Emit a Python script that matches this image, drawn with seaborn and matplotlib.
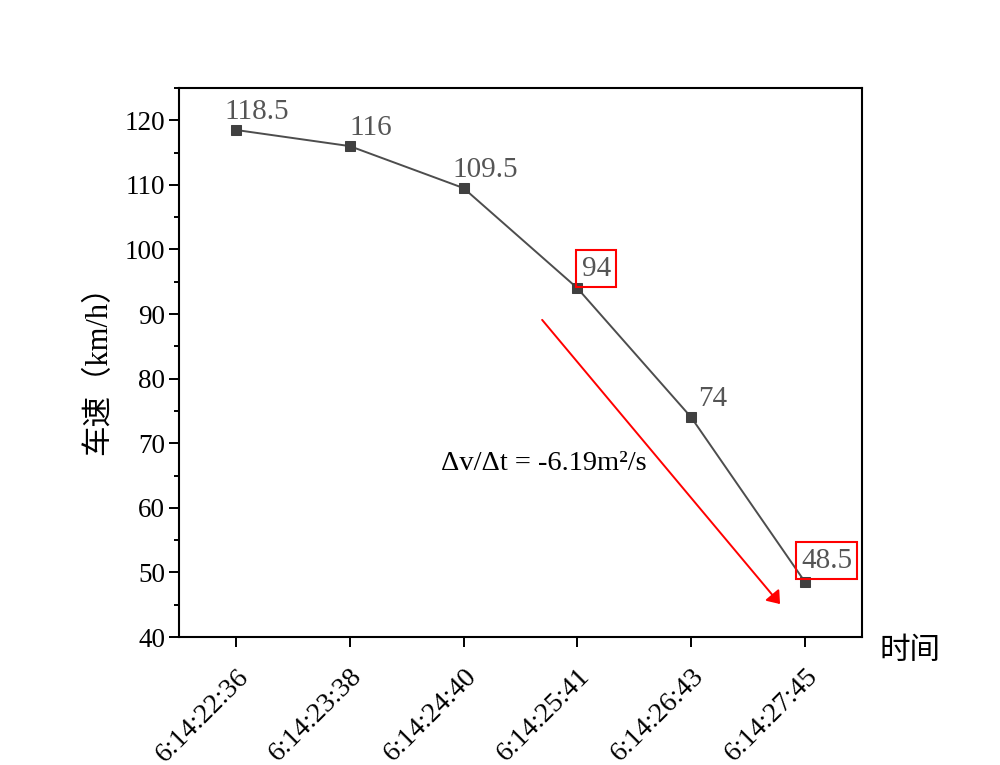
import matplotlib
matplotlib.use("Agg")
import matplotlib.pyplot as plt
import pandas as pd
import seaborn as sns
from matplotlib.ticker import MultipleLocator


# data
times = ["6:14:22:36", "6:14:23:38", "6:14:24:40", "6:14:25:41", "6:14:26:43", "6:14:27:45"]
speeds = [118.5, 116, 109.5, 94, 74, 48.5]
value_labels = ["118.5", "116", "109.5", "94", "74", "48.5"]
boxed = [False, False, False, True, False, True]
label_offsets = [(-8.5, 8), (0, 8), (-8, 8), (3, 9), (5, 8), (-3, 10.5)]

arrow_start = (2.69, 89.1)
arrow_end = (4.78, 45.1)
slope_text = "Δv/Δt = -6.19m²/s"


def main():
    df = pd.DataFrame({"time": times, "speed": speeds})
    df["pos"] = range(len(df))

    sns.set_style("ticks")
    plt.rcParams["font.family"] = ["Liberation Serif", "Noto Sans CJK SC"]

    fig = plt.figure(figsize=(10, 7.65), dpi=100)
    ax = fig.add_axes([0.179, 0.1673, 0.683, 0.7177])

    sns.lineplot(data=df, x="pos", y="speed", ax=ax, color="#4d4d4d",
                 linewidth=1.4, marker="s", markersize=7.5,
                 markerfacecolor="#404040", markeredgecolor="#404040")

    # value labels above each point
    for i, (val, lab) in enumerate(zip(speeds, value_labels)):
        dx, dy = label_offsets[i]
        kw = {}
        if boxed[i]:
            kw["bbox"] = dict(boxstyle="square,pad=0.18", facecolor="none",
                              edgecolor="red", linewidth=1.5)
        ax.annotate(lab, xy=(i, val), xytext=(dx, dy), textcoords="offset points",
                    ha="left", va="baseline", fontsize=21, color="#555555", **kw)

    # trend arrow and slope text
    ax.annotate("", xy=arrow_end, xytext=arrow_start,
                arrowprops=dict(arrowstyle="-|>,head_width=0.3", color="red",
                                linewidth=1.4, mutation_scale=18,
                                shrinkA=0, shrinkB=0))
    ax.text(1.80, 66.9, slope_text, fontsize=20.5, va="center", ha="left",
            color="black")

    ax.set_xlim(-0.5, 5.5)
    ax.set_ylim(40, 125)
    ax.set_xticks(range(len(times)))
    ax.set_xticklabels(times, rotation=45, ha="right", va="top",
                       rotation_mode="anchor")
    ax.yaxis.set_major_locator(MultipleLocator(10))
    ax.yaxis.set_minor_locator(MultipleLocator(5))
    ax.tick_params(axis="both", which="both", colors="black", labelcolor="black")
    ax.tick_params(axis="both", which="major", labelsize=19.5, length=7.5, width=1.4,
                   direction="out")
    ax.tick_params(axis="y", which="major", pad=2.5)
    ax.tick_params(axis="x", which="major", pad=12, labelsize=20)
    ax.tick_params(axis="y", which="minor", length=3.5, width=1.4, direction="out")
    for spine in ax.spines.values():
        spine.set_linewidth(1.5)
        spine.set_color("black")
        spine.set_visible(True)

    ax.set_xlabel("")
    ax.set_ylabel("车速（km/h）", fontsize=22, labelpad=8, color="black")
    ax.text(1.07, -0.027, "时间", transform=ax.transAxes, fontsize=22,
            ha="center", va="center", color="black")

    plt.savefig("out.png", dpi=100)
    plt.close()


if __name__ == "__main__":
    main()
